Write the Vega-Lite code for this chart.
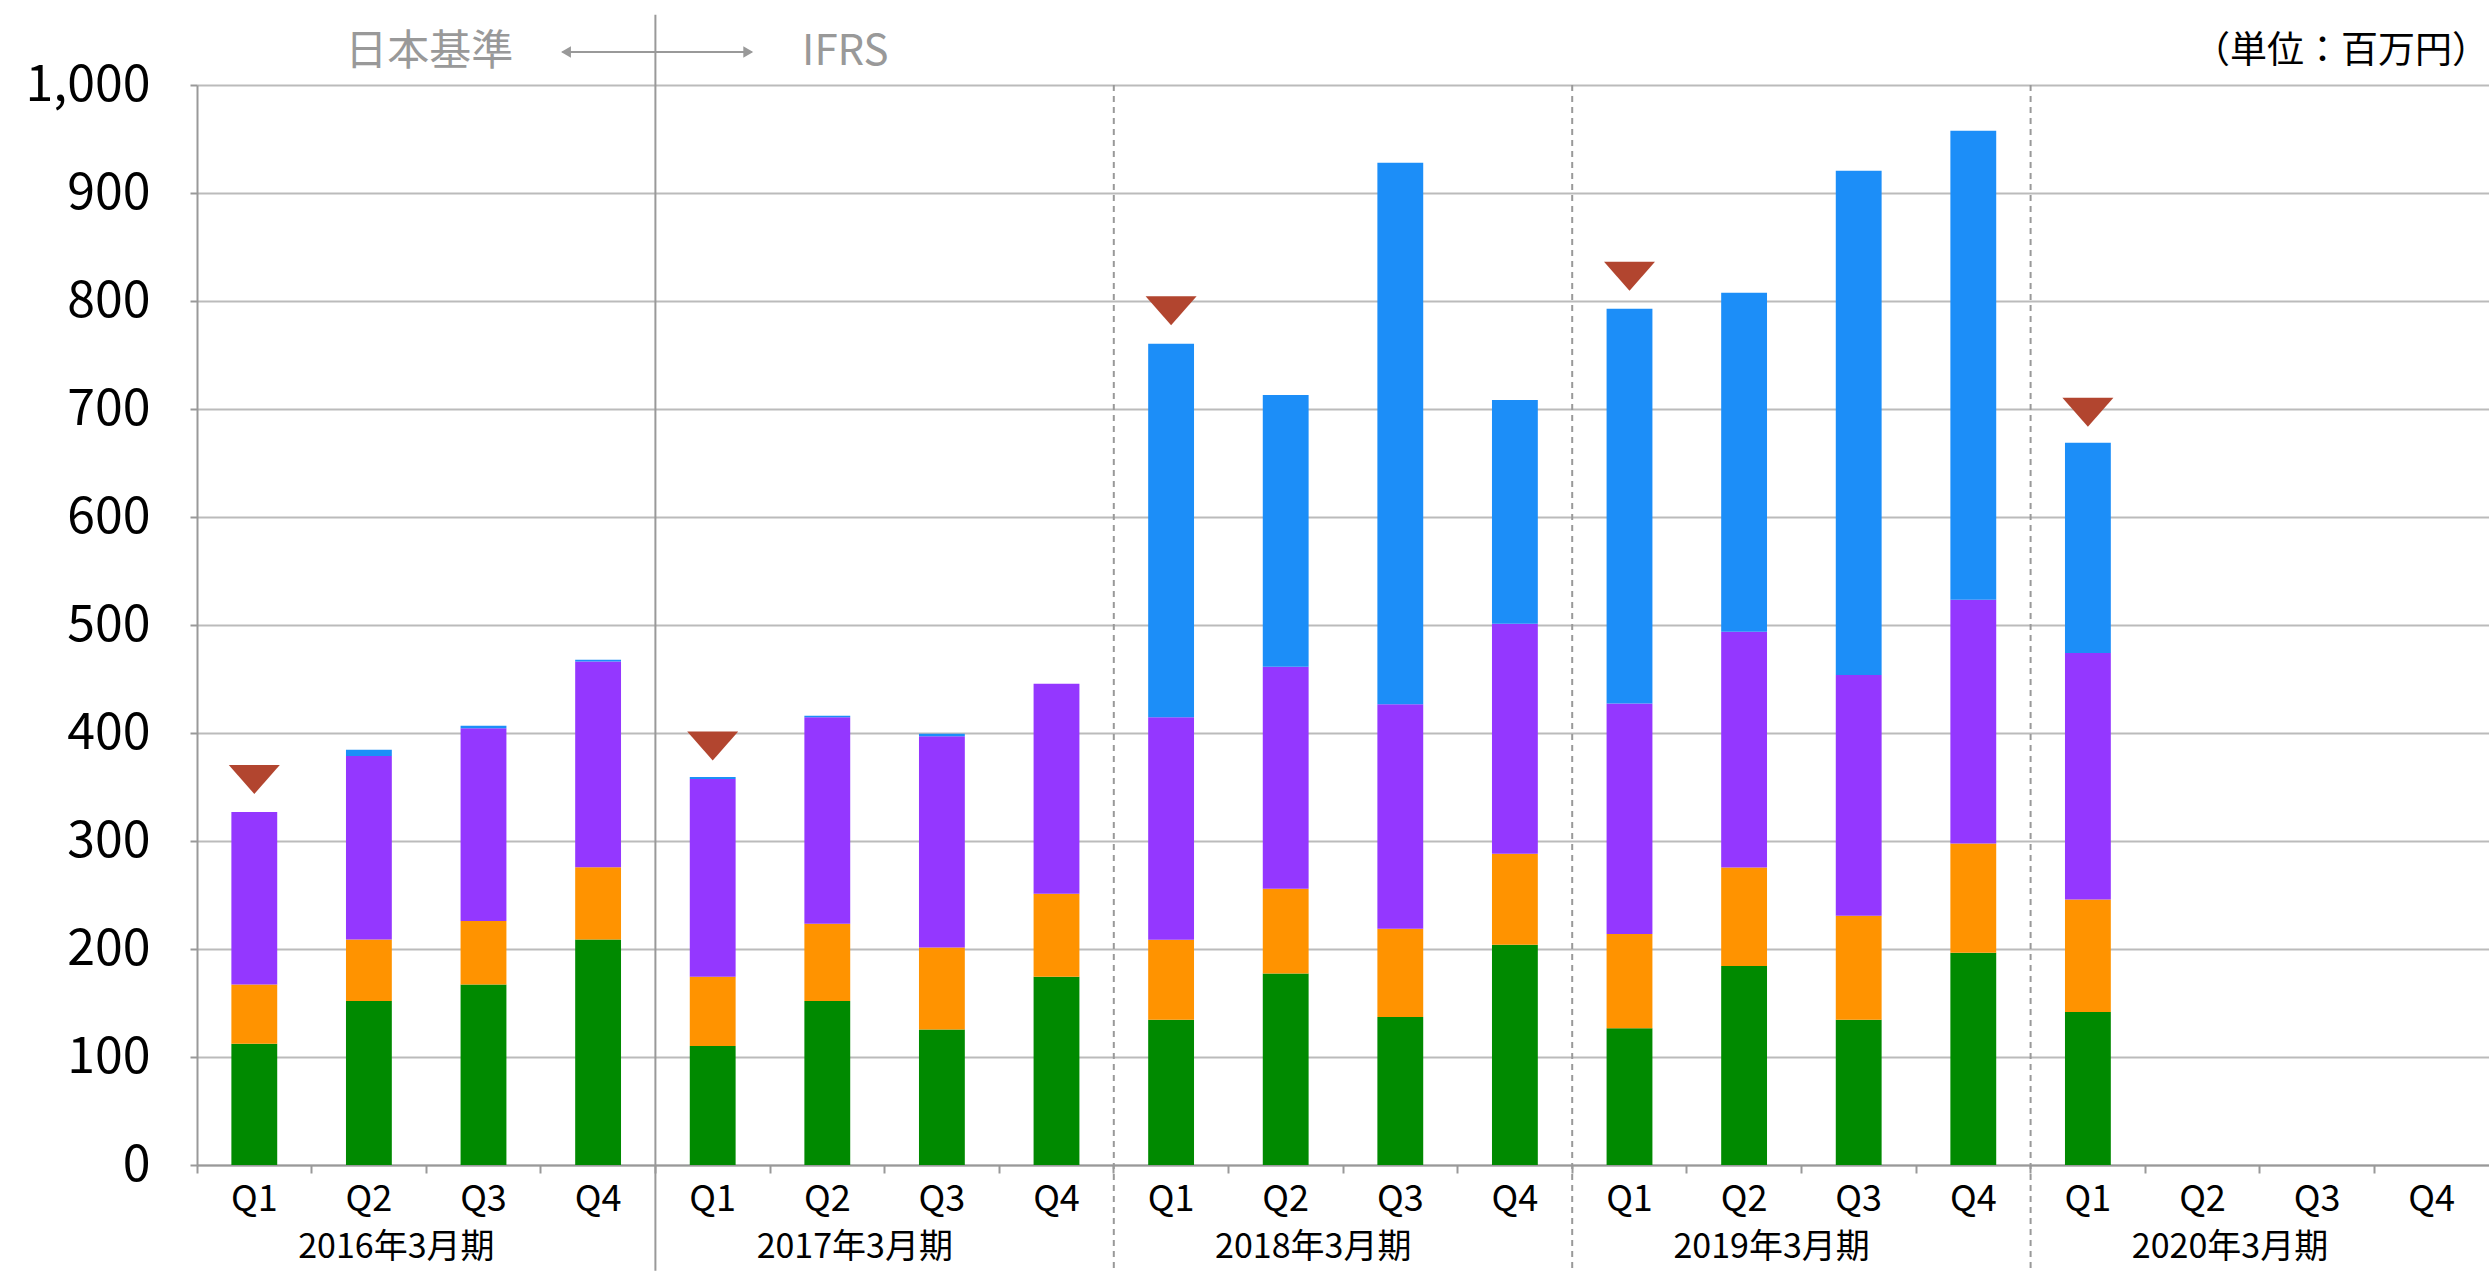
{
  "$schema": "https://vega.github.io/schema/vega-lite/v6.json",
  "width": 2292,
  "height": 1080,
  "autosize": {"type": "none"},
  "padding": {"left": 197, "top": 85, "right": 0, "bottom": 106},
  "background": "white",
  "config": {"view": {"stroke": null}, "font": "Noto Sans CJK JP"},
  "datasets": {
    "bars": [
      {"period": "2016-Q1", "fy": "2016年3月期", "s1": 112.2, "s2": 54.9, "s3": 159.8, "s4": 0},
      {"period": "2016-Q2", "fy": "2016年3月期", "s1": 151.9, "s2": 56.9, "s3": 170.0, "s4": 5.6},
      {"period": "2016-Q3", "fy": "2016年3月期", "s1": 167.1, "s2": 58.9, "s3": 178.3, "s4": 2.3},
      {"period": "2016-Q4", "fy": "2016年3月期", "s1": 208.8, "s2": 66.8, "s3": 190.6, "s4": 1.6},
      {"period": "2017-Q1", "fy": "2017年3月期", "s1": 110.2, "s2": 64.2, "s3": 182.9, "s4": 2.0},
      {"period": "2017-Q2", "fy": "2017年3月期", "s1": 151.9, "s2": 71.4, "s3": 191.3, "s4": 1.3},
      {"period": "2017-Q3", "fy": "2017年3月期", "s1": 125.4, "s2": 76.1, "s3": 195.5, "s4": 2.3},
      {"period": "2017-Q4", "fy": "2017年3月期", "s1": 174.4, "s2": 76.7, "s3": 194.6, "s4": 0},
      {"period": "2018-Q1", "fy": "2018年3月期", "s1": 134.4, "s2": 74.2, "s3": 206.0, "s4": 345.8},
      {"period": "2018-Q2", "fy": "2018年3月期", "s1": 177.2, "s2": 78.7, "s3": 205.4, "s4": 251.7},
      {"period": "2018-Q3", "fy": "2018年3月期", "s1": 137.1, "s2": 81.7, "s3": 207.9, "s4": 501.3},
      {"period": "2018-Q4", "fy": "2018年3月期", "s1": 203.9, "s2": 84.4, "s3": 212.8, "s4": 207.3},
      {"period": "2019-Q1", "fy": "2019年3月期", "s1": 126.6, "s2": 87.4, "s3": 213.3, "s4": 365.5},
      {"period": "2019-Q2", "fy": "2019年3月期", "s1": 184.3, "s2": 91.2, "s3": 218.3, "s4": 313.9},
      {"period": "2019-Q3", "fy": "2019年3月期", "s1": 134.6, "s2": 96.2, "s3": 223.0, "s4": 466.7},
      {"period": "2019-Q4", "fy": "2019年3月期", "s1": 196.5, "s2": 101.1, "s3": 225.7, "s4": 434.3},
      {"period": "2020-Q1", "fy": "2020年3月期", "s1": 141.6, "s2": 104.2, "s3": 228.3, "s4": 194.6}
    ],
    "periods": [
      {"period": "2016-Q1", "fy": "2016年3月期", "q": "Q1"},
      {"period": "2016-Q2", "fy": "2016年3月期", "q": "Q2"},
      {"period": "2016-Q3", "fy": "2016年3月期", "q": "Q3"},
      {"period": "2016-Q4", "fy": "2016年3月期", "q": "Q4"},
      {"period": "2017-Q1", "fy": "2017年3月期", "q": "Q1"},
      {"period": "2017-Q2", "fy": "2017年3月期", "q": "Q2"},
      {"period": "2017-Q3", "fy": "2017年3月期", "q": "Q3"},
      {"period": "2017-Q4", "fy": "2017年3月期", "q": "Q4"},
      {"period": "2018-Q1", "fy": "2018年3月期", "q": "Q1"},
      {"period": "2018-Q2", "fy": "2018年3月期", "q": "Q2"},
      {"period": "2018-Q3", "fy": "2018年3月期", "q": "Q3"},
      {"period": "2018-Q4", "fy": "2018年3月期", "q": "Q4"},
      {"period": "2019-Q1", "fy": "2019年3月期", "q": "Q1"},
      {"period": "2019-Q2", "fy": "2019年3月期", "q": "Q2"},
      {"period": "2019-Q3", "fy": "2019年3月期", "q": "Q3"},
      {"period": "2019-Q4", "fy": "2019年3月期", "q": "Q4"},
      {"period": "2020-Q1", "fy": "2020年3月期", "q": "Q1"},
      {"period": "2020-Q2", "fy": "2020年3月期", "q": "Q2"},
      {"period": "2020-Q3", "fy": "2020年3月期", "q": "Q3"},
      {"period": "2020-Q4", "fy": "2020年3月期", "q": "Q4"}
    ],
    "markers": [
      {"period": "2016-Q1", "value": 357},
      {"period": "2017-Q1", "value": 388},
      {"period": "2018-Q1", "value": 791},
      {"period": "2019-Q1", "value": 823},
      {"period": "2020-Q1", "value": 697}
    ]
  },
  "resolve": {"scale": {"x": "independent"}},
  "layer": [
    {
      "layer": [
        {
          "data": {"name": "bars"},
          "transform": [{"fold": ["s1", "s2", "s3", "s4"], "as": ["series", "value"]}],
          "mark": {"type": "bar", "width": {"band": 0.4}},
          "encoding": {
            "x": {
              "field": "period", "type": "nominal", "sort": null,
              "scale": {
                "domain": ["2016-Q1","2016-Q2","2016-Q3","2016-Q4","2017-Q1","2017-Q2","2017-Q3","2017-Q4","2018-Q1","2018-Q2","2018-Q3","2018-Q4","2019-Q1","2019-Q2","2019-Q3","2019-Q4","2020-Q1","2020-Q2","2020-Q3","2020-Q4"],
                "paddingInner": 0, "paddingOuter": 0
              },
              "axis": {
                "title": null, "labelAngle": 0, "labelExpr": "split(datum.value, '-')[1]",
                "labelFontSize": 36, "labelColor": "#000000", "labelPadding": 9,
                "bandPosition": 0, "tickSize": 8, "tickColor": "#999999", "tickWidth": 2,
                "domainColor": "#999999", "domainWidth": 2, "grid": false
              }
            },
            "y": {
              "field": "value", "type": "quantitative", "stack": "zero",
              "scale": {"domain": [0, 1000], "nice": false},
              "axis": {
                "title": null, "values": [0,100,200,300,400,500,600,700,800,900,1000], "format": ",d",
                "labelFontSize": 50, "labelColor": "#000000", "labelPadding": 40,
                "tickSize": 7, "tickColor": "#999999", "tickWidth": 2,
                "domainColor": "#999999", "domainWidth": 2,
                "grid": true, "gridColor": "#BBBBBB", "gridWidth": 2
              }
            },
            "color": {
              "field": "series", "type": "nominal",
              "scale": {"domain": ["s1", "s2", "s3", "s4"], "range": ["#008A00", "#FF9300", "#9437FF", "#1C8EF8"]},
              "legend": null
            },
            "order": {"field": "series", "sort": "ascending"}
          }
        },
        {
          "data": {"name": "markers"},
          "mark": {"type": "point", "filled": true, "opacity": 1, "shape": "M-1,-0.57L1,-0.57L0,0.57Z", "size": 2601, "color": "#B2452F"},
          "encoding": {
            "x": {"field": "period", "type": "nominal", "sort": null},
            "y": {"field": "value", "type": "quantitative"}
          }
        },
        {
          "data": {"name": "periods"},
          "transform": [{"filter": "datum.period == '2017-Q1'"}],
          "mark": {"type": "rule", "color": "#999999", "strokeWidth": 2},
          "encoding": {
            "x": {"field": "period", "type": "nominal", "sort": null, "bandPosition": 0},
            "y": {"datum": 1065},
            "y2": {"datum": -98}
          }
        },
        {
          "data": {"name": "periods"},
          "transform": [{"filter": "datum.q == 'Q1' && datum.period != '2016-Q1' && datum.period != '2017-Q1'"}],
          "mark": {"type": "rule", "color": "#999999", "strokeWidth": 2, "strokeDash": [6, 5]},
          "encoding": {
            "x": {"field": "period", "type": "nominal", "sort": null, "bandPosition": 0},
            "y": {"datum": 1000},
            "y2": {"datum": -98}
          }
        },
        {
          "data": {"name": "periods"},
          "transform": [{"filter": "datum.q == 'Q2'"}],
          "mark": {"type": "text", "fontSize": 34, "color": "#000000", "baseline": "middle", "align": "center"},
          "encoding": {
            "x": {"field": "period", "type": "nominal", "sort": null, "bandPosition": 0.74},
            "y": {"datum": -77},
            "text": {"field": "fy"}
          }
        }
      ]
    },
    {
      "layer": [
        {
          "data": {"values": [{"a": "arrow"}]},
          "mark": {"type": "rule", "color": "#999999", "strokeWidth": 2},
          "encoding": {
            "x": {"datum": 3.19, "type": "quantitative", "scale": {"domain": [0, 20], "nice": false, "zero": false}, "axis": null},
            "x2": {"datum": 4.84},
            "y": {"datum": 1030.5}
          }
        },
        {
          "data": {"values": [{"a": "left"}]},
          "mark": {"type": "point", "filled": true, "opacity": 1, "shape": "triangle-left", "size": 130, "color": "#999999"},
          "encoding": {
            "x": {"datum": 3.22, "type": "quantitative"},
            "y": {"datum": 1030.5}
          }
        },
        {
          "data": {"values": [{"a": "right"}]},
          "mark": {"type": "point", "filled": true, "opacity": 1, "shape": "triangle-right", "size": 130, "color": "#999999"},
          "encoding": {
            "x": {"datum": 4.81, "type": "quantitative"},
            "y": {"datum": 1030.5}
          }
        },
        {
          "data": {"values": [{"t": "日本基準"}]},
          "mark": {"type": "text", "fontSize": 42, "color": "#999999", "align": "right", "baseline": "middle"},
          "encoding": {
            "x": {"datum": 2.76, "type": "quantitative"},
            "y": {"datum": 1031},
            "text": {"field": "t"}
          }
        },
        {
          "data": {"values": [{"t": "IFRS"}]},
          "mark": {"type": "text", "fontSize": 42, "color": "#999999", "align": "left", "baseline": "middle"},
          "encoding": {
            "x": {"datum": 5.28, "type": "quantitative"},
            "y": {"datum": 1031},
            "text": {"field": "t"}
          }
        },
        {
          "data": {"values": [{"t": "（単位：百万円）"}]},
          "mark": {"type": "text", "fontSize": 37, "color": "#000000", "align": "right", "baseline": "middle"},
          "encoding": {
            "x": {"datum": 20, "type": "quantitative"},
            "y": {"datum": 1031},
            "text": {"field": "t"}
          }
        }
      ]
    }
  ]
}
